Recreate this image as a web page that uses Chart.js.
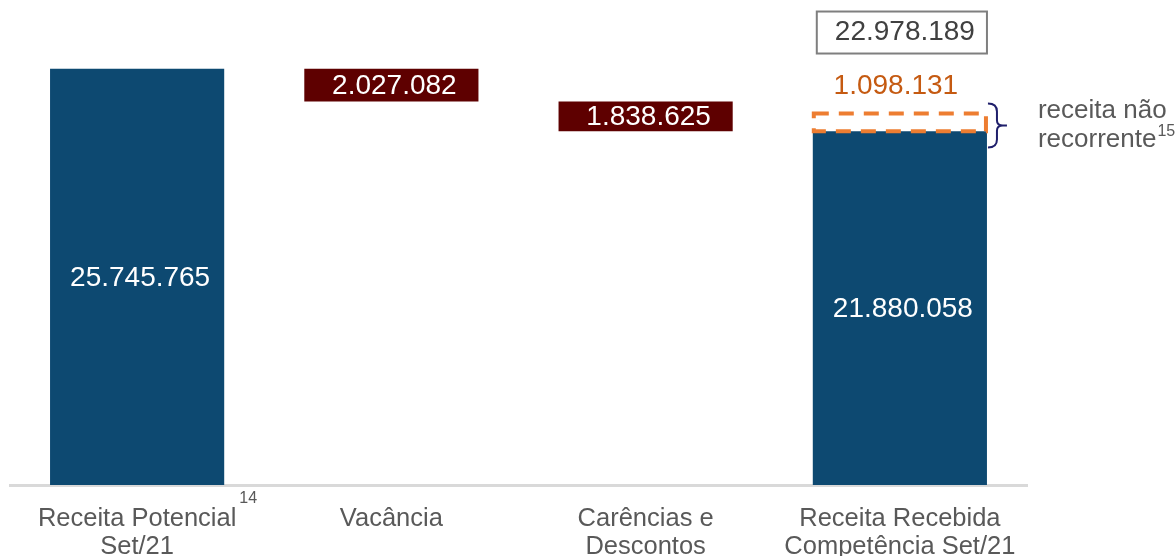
<!DOCTYPE html>
<html>
<head>
<meta charset="utf-8">
<script src="https://cdn.jsdelivr.net/npm/chart.js@4"></script>
<style>body{margin:0;background:#fff}</style>
</head>
<body>
<canvas id="waterfall" width="1176" height="556"></canvas>
<script>
// Categories and values
const categories = [['Receita Potencial', 'Set/21'], ['Vacância'], ['Carências e', 'Descontos'], ['Receita Recebida', 'Competência Set/21']];
const footnotes = ['14', '', '', ''];
const steps = [25745765, -2027082, -1838625, 21880058];
const nonRecurring = 1098131;
const totalReceived = 22978189;
const barColors = ['#0D4971', '#5E0000', '#5E0000', '#0D4971'];

// Floating ranges for the waterfall
let running = 0;
const ranges = steps.map((v, i) => {
    if (i === 0 || i === steps.length - 1) { running = v; return [0, v]; }
    const r = [running + v, running];
    running += v;
    return r;
});
const extraRange = steps.map((v, i) => i === steps.length - 1 ? [v, v + nonRecurring] : null);

const fmt = n => Math.abs(n).toString().replace(/\B(?=(\d{3})+(?!\d))/g, '.');
const FONT = '"Liberation Sans", Arial, sans-serif';

// Draw value labels, dashed box, bracket and category labels
const waterfallLabels = {
    id: 'waterfallLabels',
    afterDatasetsDraw(chart) {
        const ctx = chart.ctx;
        const meta = chart.getDatasetMeta(0);
        ctx.save();
        ctx.textAlign = 'center';
        ctx.textBaseline = 'middle';
        ctx.font = '28px ' + FONT;
        ctx.fillStyle = '#ffffff';
        meta.data.forEach((bar, i) => {
            ctx.fillText(fmt(steps[i]), bar.x + 3, (bar.y + bar.base) / 2 + 1);
        });

        // non recurring revenue: dashed outline
        const nr = chart.getDatasetMeta(1).data[steps.length - 1];
        const top = Math.min(nr.y, nr.base), bottom = Math.max(nr.y, nr.base);
        const left = nr.x - nr.width / 2, right = nr.x + nr.width / 2;
        ctx.strokeStyle = '#ED7D31';
        ctx.lineWidth = 4;
        ctx.setLineDash([15, 10]);
        ctx.strokeRect(left + 1, top, nr.width - 2, bottom - top);
        ctx.setLineDash([]);

        ctx.fillStyle = '#C55A11';
        ctx.fillText(fmt(nonRecurring), nr.x - 4, top - 27);

        // total box
        ctx.strokeStyle = '#7F7F7F';
        ctx.lineWidth = 2;
        ctx.strokeRect(left + 4, top - 102, nr.width - 4, 42);
        ctx.fillStyle = '#404040';
        ctx.fillText(fmt(totalReceived), nr.x + 5, top - 81);

        // bracket
        const bx = right + 1, mid = (top + bottom) / 2 + 3;
        ctx.strokeStyle = '#1F1F6B';
        ctx.lineWidth = 2;
        ctx.beginPath();
        ctx.moveTo(bx, mid - 22);
        ctx.quadraticCurveTo(bx + 9, mid - 22, bx + 9, mid - 14);
        ctx.lineTo(bx + 9, mid - 5);
        ctx.quadraticCurveTo(bx + 9, mid, bx + 15, mid);
        ctx.lineTo(bx + 19, mid);
        ctx.moveTo(bx + 15, mid);
        ctx.quadraticCurveTo(bx + 9, mid, bx + 9, mid + 5);
        ctx.lineTo(bx + 9, mid + 14);
        ctx.quadraticCurveTo(bx + 9, mid + 22, bx, mid + 22);
        ctx.stroke();

        ctx.textAlign = 'left';
        ctx.fillStyle = '#595959';
        ctx.font = '26px ' + FONT;
        ctx.fillText('receita não', bx + 50, mid - 15);
        ctx.fillText('recorrente', bx + 50, mid + 14);
        const w = ctx.measureText('recorrente').width;
        ctx.font = '16px ' + FONT;
        ctx.fillText('15', bx + 50 + w + 1, mid + 6);
        ctx.restore();
    },
    afterDraw(chart) {
        const ctx = chart.ctx;
        const xs = chart.scales.x;
        const base = chart.chartArea.bottom;
        ctx.save();
        ctx.textAlign = 'center';
        ctx.textBaseline = 'middle';
        ctx.fillStyle = '#595959';
        categories.forEach((lines, i) => {
            const x = xs.getPixelForValue(i);
            ctx.font = '25.5px ' + FONT;
            lines.forEach((t, j) => ctx.fillText(t, x, base + 34 + j * 28));
            if (footnotes[i]) {
                const w = ctx.measureText(lines[0]).width;
                ctx.font = '16px ' + FONT;
                ctx.textAlign = 'left';
                ctx.fillText(footnotes[i], x + w / 2 + 3, base + 14);
                ctx.textAlign = 'center';
            }
        });
        ctx.restore();
    }
};

const data = {
    labels: categories.map(c => c.join(' ')),
    datasets: [{
        data: ranges,
        backgroundColor: barColors,
        grouped: false,
        barPercentage: 0.685,
        categoryPercentage: 1
    }, {
        data: extraRange,
        backgroundColor: 'rgba(0,0,0,0)',
        grouped: false,
        barPercentage: 0.685,
        categoryPercentage: 1
    }]
};

const config = {
    type: 'bar',
    data: data,
    options: {
        responsive: false,
        animation: false,
        devicePixelRatio: 1,
        layout: { padding: { left: 10, right: 149, top: 0, bottom: 71 } },
        plugins: { legend: { display: false }, tooltip: { enabled: false } },
        scales: {
            x: {
                grid: { display: false, drawTicks: false },
                ticks: { display: false },
                border: { color: '#D9D9D9', width: 3 }
            },
            y: { display: false, min: 0, max: 30000000 }
        }
    },
    plugins: [waterfallLabels]
};

new Chart(document.getElementById('waterfall'), config);
</script>
</body>
</html>
